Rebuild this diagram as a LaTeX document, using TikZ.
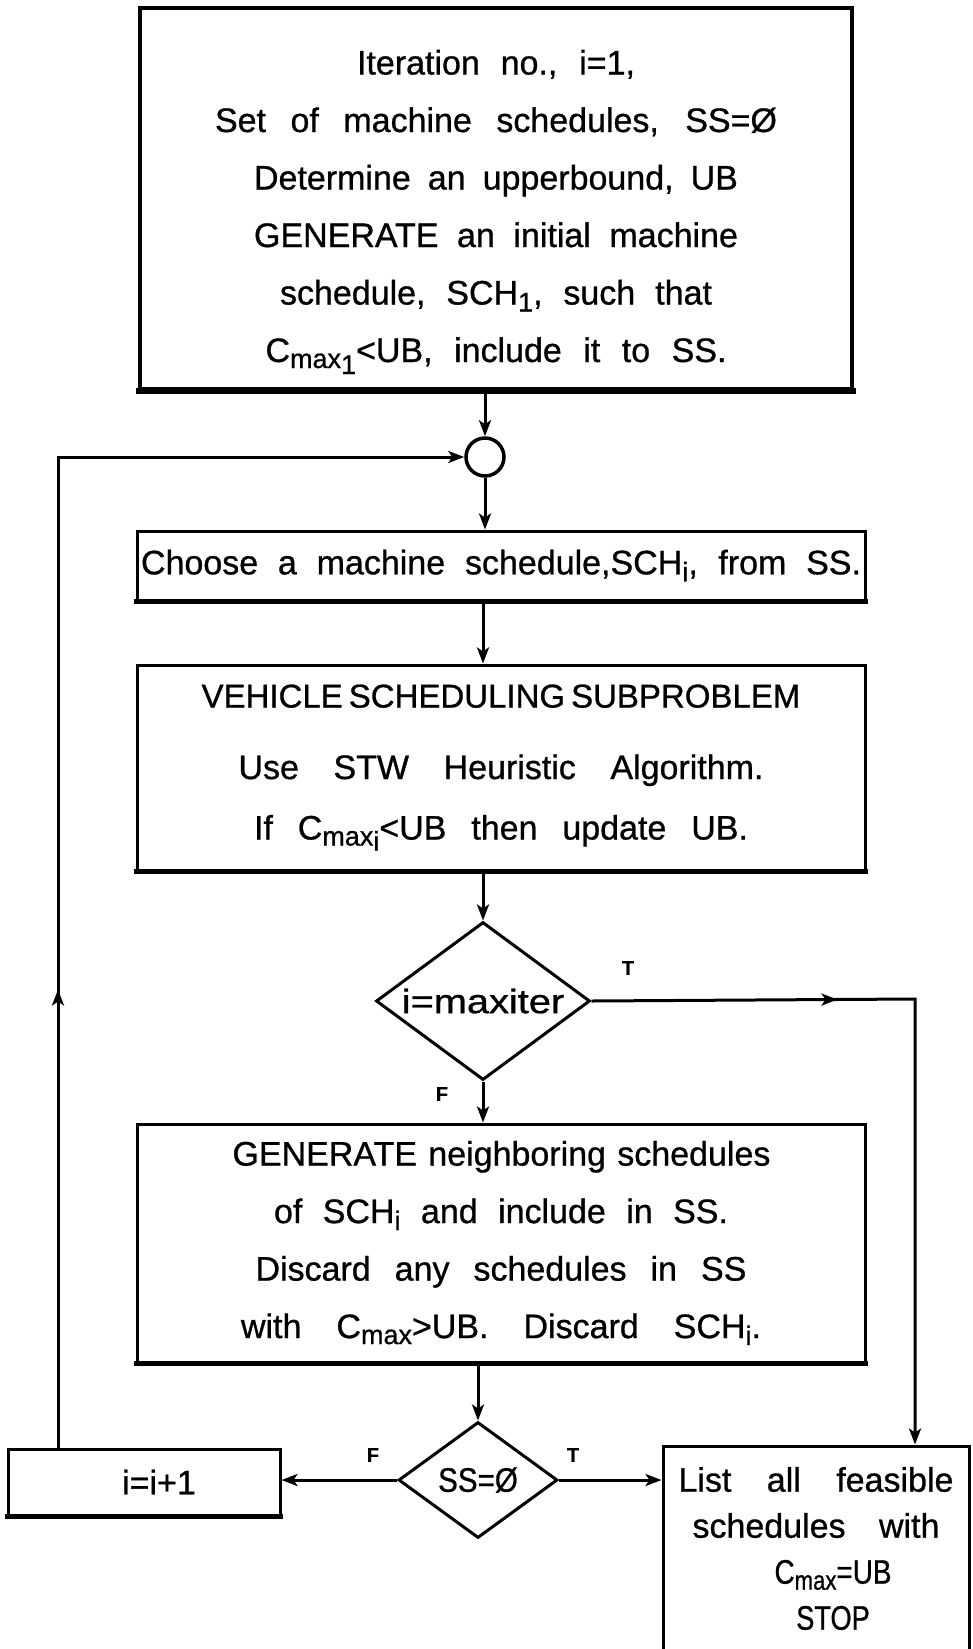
\documentclass[tikz,border=0pt]{standalone}
\usepackage{fontspec}
\usepackage{graphicx}
\setmainfont{Liberation Sans}[WordSpace=1.8,FakeBold=0.8]
\newfontfamily\regfont{Liberation Sans}[FakeBold=0.8]
\usetikzlibrary{shapes.geometric,arrows.meta,decorations.markings}
\newcommand{\sbx}[2]{\raisebox{-#1pt}{\fontsize{27}{27}\selectfont #2}}
\newcommand{\jline}[2]{\makebox[#1pt][s]{#2}}
\begin{document}
\begin{tikzpicture}[x=1pt,y=-1pt,
  box/.style={draw,line width=3pt,inner sep=0pt,align=center,font=\fontsize{34}{57.5}\selectfont},
  dia/.style={draw,diamond,line width=3pt,inner sep=0pt,font=\fontsize{34}{40}\selectfont},
  conn/.style={line width=3pt,-{Stealth[length=16pt,width=12pt,inset=4pt]}},
  midarr/.style={postaction={decorate},decoration={markings,mark=at position #1 with {\arrow{Stealth[length=16pt,width=12pt,inset=4pt]}}}},
  thickbottom/.style={line width=5.5pt,shorten <=-1.5pt,shorten >=-1.5pt},
  lbl/.style={font=\fontsize{20}{20}\selectfont\bfseries,inner sep=0pt}]
\useasboundingbox (0,0) rectangle (972,1649);

\node[box,line width=4pt,minimum width=712pt,minimum height=381pt] (top) at (496,198.5) {%
\mbox{}\\[-6pt]
\jline{278}{Iteration no., i=1,}\\
\jline{562}{Set of machine schedules, SS=Ø}\\
\jline{484}{Determine an upperbound, UB}\\
\jline{484}{GENERATE an initial machine}\\
\jline{432}{schedule, SCH\sbx{7}{1}, such that}\\
\jline{461}{C\sbx{6}{max\raisebox{-6pt}{1}}<UB, include it to SS.}};
\draw[thickbottom,line width=6.5pt,shorten <=-2pt,shorten >=-2pt] (top.south west) -- (top.south east);

\node[draw,circle,line width=3.5pt,minimum size=38pt,inner sep=0pt] (circ) at (485,457) {};

\node[box,minimum width=728pt,minimum height=69pt] (choose) at (501,565.5) {%
\jline{720}{Choose a machine schedule,SCH\sbx{7}{i}, from SS.}};
\draw[thickbottom] (choose.south west) -- (choose.south east);

\node[box,minimum width=728pt,minimum height=205pt] (vehicle) at (501,767.5) {%
{\fontsize{33}{33}\selectfont VEHICLE\hspace{6pt}SCHEDULING\hspace{6pt}SUBPROBLEM}\\[14pt]
\jline{525}{Use STW Heuristic Algorithm.}\\[3pt]
\jline{494}{If C\sbx{6}{max\raisebox{-5pt}{i}}<UB then update UB.}};
\draw[thickbottom] (vehicle.south west) -- (vehicle.south east);

\node[dia,aspect=1.35,minimum width=214pt,minimum height=158pt] (d1) at (483,1001) {\scalebox{1.17}[1]{\regfont i=maxiter}};

\node[box,minimum width=728pt,minimum height=238pt] (gen) at (501,1243) {%
\jline{537}{GENERATE neighboring schedules}\\
\jline{454}{of SCH\sbx{7}{i} and include in SS.}\\
\jline{491}{Discard any schedules in SS}\\
\jline{520}{with C\sbx{6}{max}>UB. Discard SCH\sbx{7}{i}.}};
\draw[thickbottom] (gen.south west) -- (gen.south east);

\node[dia,aspect=1.4,minimum width=159pt,minimum height=116pt] (d2) at (478,1480) {\scalebox{0.87}[1]{SS=Ø}};

\node[box,minimum width=272pt,minimum height=66pt] (inc) at (144,1482) {\hspace*{30pt}i=i+1};
\draw[thickbottom] (inc.south west) -- (inc.south east);

\node[box,minimum width=306pt,minimum height=205pt,font=\fontsize{34}{46}\selectfont] (list) at (816,1548.5) {%
\jline{275}{List all feasible}\\
\jline{247}{schedules with}\\
\hspace*{34pt}\scalebox{0.82}[1]{C\sbx{6}{max}=UB}\\
\hspace*{34pt}\scalebox{0.8}[1]{STOP}};

\coordinate (lx) at (58,457);
\coordinate (tx) at (915,999);

\draw[conn] (top.south -| circ) -- (circ.north);
\draw[conn] (circ.south) -- (choose.north -| circ.south);
\draw[conn] (choose.south -| d1.north) -- (vehicle.north -| d1.north);
\draw[conn] (vehicle.south -| d1.north) -- (d1.north);
\draw[conn] (d1.south) -- (gen.north -| d1.south);
\draw[conn] (gen.south -| d2.north) -- (d2.north);
\draw[conn] (d2.west) -- (d2.west -| inc.east);
\draw[conn] (d2.east) -- (d2.east -| list.west);
\draw[conn,midarr=246pt] (d1.east) -- (tx) -- (tx |- list.north);
\draw[conn,midarr=458pt] (inc.north -| lx) -- (lx) -- (circ.west);

\node[lbl] (lT1) at (628,968) {T};
\node[lbl] (lF1) at (442,1094) {F};
\node[lbl] (lF2) at (373,1455) {F};
\node[lbl] (lT2) at (573,1455) {T};
\end{tikzpicture}
\end{document}
